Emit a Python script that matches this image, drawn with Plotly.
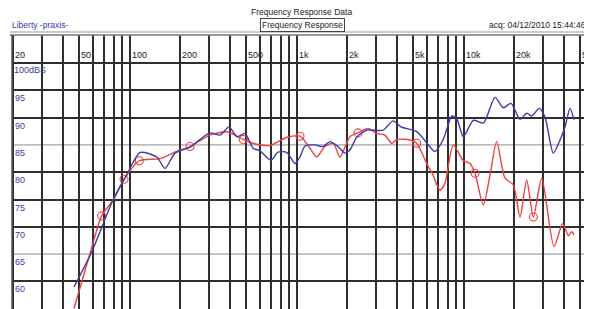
import math
import plotly.graph_objects as go

# ---- data ----
blue_freq = [46.4, 59.2, 79.4, 95.9, 115.2, 145.0, 162.6, 186.7, 229.6, 302.5, 347.1, 393.0,
             438.9, 490.1, 547.2, 602.6, 701.3, 772.3, 874.3, 976.3, 1046, 1121, 1287, 1437,
             1582, 1767, 1945, 2084, 2296, 2636, 3286, 3771, 4211, 5252, 6026, 6729, 7514,
             8505, 9114, 9940, 11410, 13100, 15390, 17260, 19190, 21720, 23820, 25530, 28350,
             30660, 34390, 37710, 40410, 43290, 45740]
blue_db = [59.0, 65.4, 74.9, 79.5, 83.6, 82.8, 80.7, 83.5, 84.6, 87.2, 86.8, 88.3,
           86.5, 87.1, 84.4, 83.9, 82.2, 83.7, 83.6, 81.6, 82.8, 84.8, 85.0, 84.7,
           85.6, 84.7, 83.5, 84.1, 86.5, 87.7, 87.7, 89.4, 88.3, 87.4, 85.3, 83.8, 85.9,
           90.3, 89.7, 86.5, 89.5, 89.0, 93.7, 91.8, 92.6, 89.7, 90.8, 90.3, 91.7,
           90.1, 83.5, 85.9, 88.3, 91.7, 89.6]

red_freq = [46.4, 57.8, 67.9, 79.4, 92.4, 114.1, 151.8, 191.1, 229.6, 302.5, 382.3, 478.6,
            547.2, 691.7, 874.3, 1046, 1200, 1317, 1477, 1656, 1816, 2084, 2328, 2683,
            3011, 3377, 3705, 3968, 4767, 5230, 6001, 6546, 7209, 7723, 8659, 9940, 10900,
            11680, 13100, 14370, 15750, 17670, 19810, 21720, 23820, 26100, 29310, 34720,
            39140, 42290, 44310, 45740]
red_db = [55.1, 65.1, 72.0, 74.9, 78.7, 82.1, 82.5, 83.8, 84.7, 86.8, 87.4, 86.0,
          85.3, 84.9, 86.4, 86.6, 84.4, 82.8, 84.7, 85.3, 82.8, 86.5, 87.2, 88.0,
          87.1, 86.8, 85.3, 86.0, 85.9, 85.3, 81.6, 79.5, 76.7, 78.0, 85.0, 82.1, 81.6,
          79.8, 74.0, 79.5, 85.6, 78.9, 77.7, 71.8, 78.6, 71.8, 78.9, 66.4,
          70.6, 68.4, 69.1, 68.5]

marker_freq = [67.9, 92.4, 114.1, 229.6, 478.6, 1046, 2328, 5230, 11680, 26100]
marker_db = [72.0, 78.7, 82.1, 84.7, 86.0, 86.6, 87.2, 85.3, 79.8, 71.8]

grid_freqs = [20, 30, 40, 50, 60, 70, 80, 90, 100, 200, 300, 400, 500, 600, 700, 800, 900,
              1000, 2000, 3000, 4000, 5000, 6000, 7000, 8000, 9000, 10000, 20000, 30000,
              40000, 50000]
freq_label_vals = [20, 50, 100, 200, 500, 1000, 2000, 5000, 10000, 20000, 50000]
freq_label_text = ["20", "50", "100", "200", "500", "1k", "2k", "5k", "10k", "20k", "50"]
db_dark = [55, 60, 70, 75, 80, 90, 95, 100]
db_light = [65, 85]
db_labels = [95, 90, 85, 80, 75, 70, 65, 60]

BLUE = "#3c3caa"
RED = "#ee4040"
GRID = "#2e2e2e"
FONT = "Liberation Sans, Arial, sans-serif"

fig = go.Figure()

fig.add_trace(go.Scatter(x=red_freq, y=red_db, mode="lines",
                         line=dict(color=RED, width=1.4, shape="spline", smoothing=0.7),
                         hoverinfo="skip", showlegend=False))
fig.add_trace(go.Scatter(x=marker_freq, y=marker_db, mode="markers",
                         marker=dict(symbol="circle-open", size=8, color=RED, line=dict(width=1.1)),
                         hoverinfo="skip", showlegend=False))
fig.add_trace(go.Scatter(x=blue_freq, y=blue_db, mode="lines",
                         line=dict(color=BLUE, width=1.4, shape="spline", smoothing=0.7),
                         hoverinfo="skip", showlegend=False))

# light horizontal grid lines
for v in db_light:
    fig.add_shape(type="line", xref="paper", x0=0, x1=1, yref="y", y0=v, y1=v,
                  line=dict(color="#bdbdbd", width=1.6), layer="below")

# frequency labels (label row between top frame and 100 dB line)
for v, t in zip(freq_label_vals, freq_label_text):
    fig.add_annotation(x=math.log10(v), y=101.5, xref="x", yref="y",
                       yanchor="middle", xanchor="left", xshift=0,
                       text=t, showarrow=False,
                       font=dict(family=FONT, size=9, color="#222222"))

# dB labels
for v in db_labels:
    fig.add_annotation(x=0, y=v, xref="paper", yref="y", xanchor="left", yanchor="top",
                       xshift=1, yshift=-1, text=str(v), showarrow=False,
                       font=dict(family=FONT, size=9, color="#3c3c9a"))
fig.add_annotation(x=0, y=100, xref="paper", yref="y", xanchor="left", yanchor="top",
                   xshift=0, yshift=0, text="100dBS", showarrow=False,
                   font=dict(family=FONT, size=9, color="#3c3c9a"))

# header texts
fig.add_annotation(text="Frequency Response Data", xref="paper", yref="paper",
                   x=(301 - 12) / 580, y=1, yanchor="bottom", xanchor="center", yshift=16,
                   showarrow=False, font=dict(family=FONT, size=8.5, color="#222222"))
fig.add_annotation(text="Frequency Response", xref="paper", yref="paper",
                   x=(302 - 12) / 580, y=1, yanchor="bottom", xanchor="center", yshift=3,
                   showarrow=False, font=dict(family=FONT, size=8.5, color="#222222"),
                   bordercolor="#444444", borderwidth=1, borderpad=1, bgcolor="#ffffff")
fig.add_annotation(text="Liberty -praxis-", xref="paper", yref="paper",
                   x=-2 / 580, y=1, yanchor="bottom", xanchor="left", yshift=3,
                   showarrow=False, font=dict(family=FONT, size=8.5, color="#3a3aa8"))
fig.add_annotation(text="acq: 04/12/2010 15:44:46", xref="paper", yref="paper",
                   x=1, y=1, yanchor="bottom", xanchor="right", xshift=-4, yshift=3,
                   showarrow=False, font=dict(family=FONT, size=8.5, color="#222222"))

# frame lines
fig.add_shape(type="line", xref="paper", yref="paper", x0=-2 / 580, x1=1, y0=1, y1=1,
              line=dict(color="#777777", width=1.5))
fig.add_shape(type="line", xref="paper", yref="paper", x0=-2 / 580, x1=1,
              y0=1 + 3 / 274, y1=1 + 3 / 274, line=dict(color="#9a9a9a", width=1.2))
fig.add_shape(type="line", xref="paper", yref="paper", x0=0, x1=0, y0=0, y1=1,
              line=dict(color="#555555", width=1.5))

fig.update_xaxes(type="log", range=[1.295, 4.768], tickvals=grid_freqs,
                 showticklabels=False, ticks="", showgrid=True, gridcolor=GRID, gridwidth=1.5,
                 zeroline=False, showline=False, fixedrange=True)
fig.update_yaxes(range=[54.95, 105.13], tickvals=db_dark, showticklabels=False, ticks="",
                 showgrid=True, gridcolor=GRID, gridwidth=1.5, zeroline=False,
                 showline=False, fixedrange=True)

# the page body has an 8px margin: the figure is sized/offset to compensate
fig.update_layout(width=584, height=301, margin=dict(l=4, r=0, t=27, b=0),
                  paper_bgcolor="white", plot_bgcolor="white", showlegend=False)

fig.write_html("out.html")
